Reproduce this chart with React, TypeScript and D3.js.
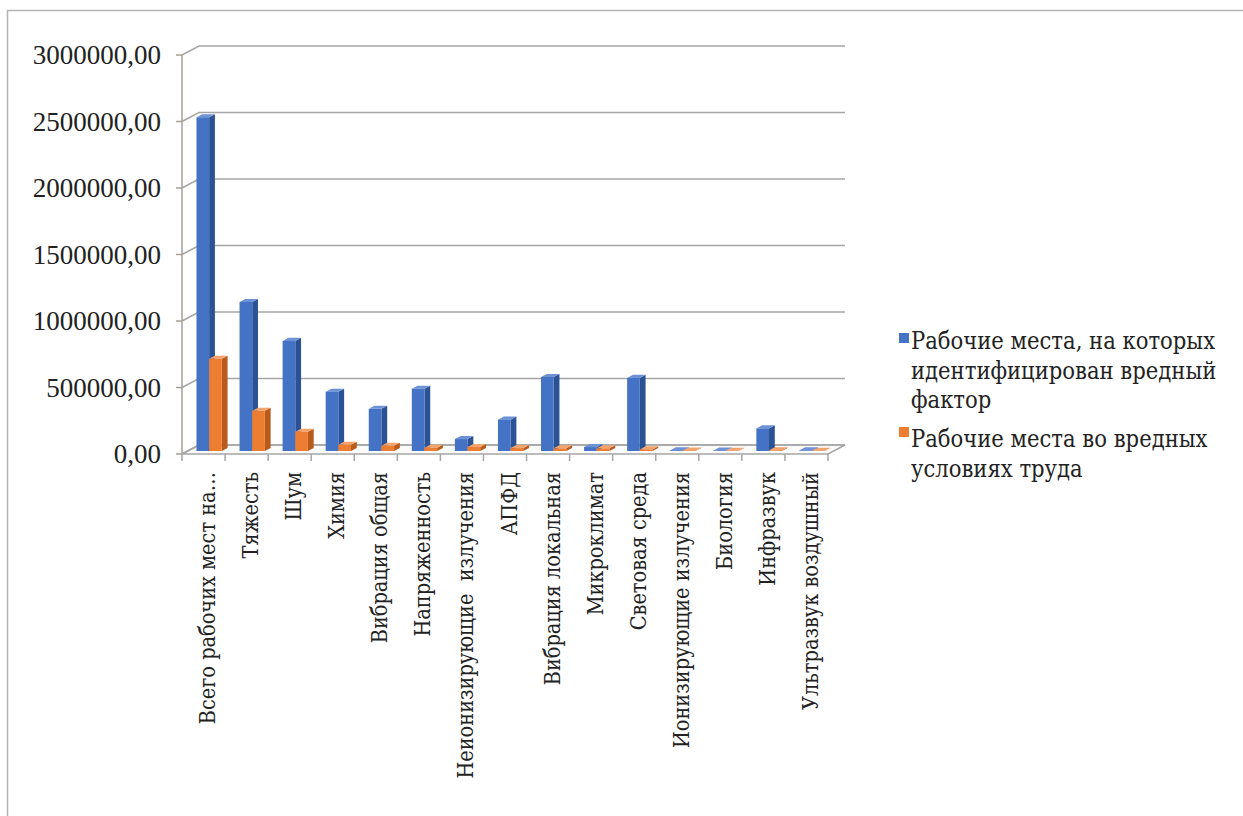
import * as d3 from "d3";
import React from "react";

const categories = [
  "Всего рабочих мест на…",
  "Тяжесть",
  "Шум",
  "Химия",
  "Вибрация общая",
  "Напряженность",
  "Неионизирующие  излучения",
  "АПФД",
  "Вибрация локальная",
  "Микроклимат",
  "Световая среда",
  "Ионизирующие излучения",
  "Биология",
  "Инфразвук",
  "Ультразвук воздушный",
];

const identified = [
  2510000, 1120000, 828000, 446000, 317000, 468000, 90000, 236000, 557000,
  30000, 550000, 6000, 3000, 170000, 5000,
];

const harmful = [
  693000, 302000, 145000, 47000, 39000, 25000, 30000, 22000, 20000, 20000,
  12000, 3000, 2000, 5000, 2000,
];

const seriesNames = [
  "Рабочие места, на которых идентифицирован вредный фактор",
  "Рабочие места во вредных условиях труда",
];

const legendLines = [
  ["Рабочие места, на которых", "идентифицирован вредный", "фактор"],
  ["Рабочие места во вредных", "условиях труда"],
];

const yTicks = [0, 500000, 1000000, 1500000, 2000000, 2500000, 3000000];

const colors = [
  { front: "#4472c4", side: "#2c5296", top: "#6d92d6" },
  { front: "#ed7d31", side: "#b85a1c", top: "#f3a36c" },
];

const W = 1243;
const H = 816;
const DX = 17;
const DY = 9;
const T0 = 0.33;
const T1 = 0.67;
const font = "'Liberation Serif', 'Times New Roman', serif";
const cyrFont = "'DejaVu Serif Condensed', 'DejaVu Serif', serif";

const App: React.FC = () => {
  const y = d3.scaleLinear().domain([0, 3000000]).range([454, 55]);
  const x = d3.scaleBand<string>().domain(categories).range([182, 828]);
  const sub = d3
    .scaleBand<number>()
    .domain([0, 1])
    .range([0, x.bandwidth()])
    .paddingOuter(0.7);

  const P = (px: number, v: number, t: number) =>
    `${px + DX * t},${y(v) - DY * t}`;

  const values = [identified, harmful];
  const x0 = x.range()[0];
  const x1 = x.range()[1];
  const fmt = (v: number) => d3.format(".2f")(v).replace(".", ",");

  return (
    <svg
      width={W}
      height={H}
      style={{ position: "absolute", left: 0, top: 0, background: "#fff" }}
    >
      <rect x={0} y={0} width={W} height={H} fill="#fff" />
      <path
        d={`M7.5,${H} V10.5 H${W}`}
        fill="none"
        stroke="#b4b4b4"
        strokeWidth={1.5}
      />

      {/* floor */}
      <polygon
        points={[P(x0, 0, 0), P(x1, 0, 0), P(x1, 0, 1), P(x0, 0, 1)].join(" ")}
        fill="#fbfbfb"
        stroke="#a6a6a6"
        strokeWidth={1.5}
      />

      {/* gridlines on back wall */}
      {yTicks.map((t) => (
        <g key={t}>
          <path
            d={`M${P(x0, t, 0)} L${P(x0, t, 1)} L${P(x1, t, 1)}`}
            fill="none"
            stroke="#a6a6a6"
            strokeWidth={1.5}
          />
          <line
            x1={x0 - 6}
            x2={x0}
            y1={y(t)}
            y2={y(t)}
            stroke="#a89f94"
            strokeWidth={1.5}
          />
          <text
            x={161}
            y={y(t)}
            dy="0.35em"
            textAnchor="end"
            fontFamily={font}
            fontSize={27}
            fill="#222"
          >
            {fmt(t)}
          </text>
        </g>
      ))}

      {/* vertical axis line */}
      <line
        x1={x0}
        x2={x0}
        y1={y(3000000)}
        y2={y(0)}
        stroke="#a89f94"
        strokeWidth={1.5}
      />

      {/* category ticks */}
      {[...categories.map((c) => x(c)!), x1].map((tx, i) => (
        <line
          key={i}
          x1={tx}
          x2={tx}
          y1={y(0)}
          y2={y(0) + 7}
          stroke="#a6a6a6"
          strokeWidth={1.5}
        />
      ))}

      {/* bars */}
      {categories.map((c, ci) =>
        values.map((vals, si) => {
          const v = vals[ci];
          const a = x(c)! + sub(si)!;
          const b = a + sub.bandwidth();
          const col = colors[si];
          return (
            <g key={`${ci}-${si}`}>
              <polygon
                points={[P(b, 0, T0), P(b, 0, T1), P(b, v, T1), P(b, v, T0)].join(" ")}
                fill={col.side}
              />
              <polygon
                points={[P(a, v, T0), P(b, v, T0), P(b, v, T1), P(a, v, T1)].join(" ")}
                fill={col.top}
              />
              <polygon
                points={[P(a, 0, T0), P(b, 0, T0), P(b, v, T0), P(a, v, T0)].join(" ")}
                fill={col.front}
              />
            </g>
          );
        })
      )}

      {/* category labels */}
      {categories.map((c) => {
        const cx = x(c)! + x.bandwidth() / 2 + 4;
        return (
          <text
            key={c}
            transform={`translate(${cx},472) rotate(-90)`}
            textAnchor="end"
            dy="0.35em"
            fontFamily={cyrFont}
            fontSize={21.5}
            fill="#222"
            style={{ whiteSpace: "pre" }}
          >
            {c}
          </text>
        );
      })}

      {/* legend */}
      {legendLines.map((lines, si) => {
        const top = si === 0 ? 333 : 427;
        const base = si === 0 ? 349 : 447;
        return (
          <g key={seriesNames[si]}>
            <rect x={899} y={top} width={10} height={10} fill={colors[si].front} />
            {lines.map((ln, li) => (
              <text
                key={li}
                x={911}
                y={base + li * 29.5}
                fontFamily={cyrFont}
                fontSize={23.5}
                fill="#222"
              >
                {ln}
              </text>
            ))}
          </g>
        );
      })}
    </svg>
  );
};

export default App;
